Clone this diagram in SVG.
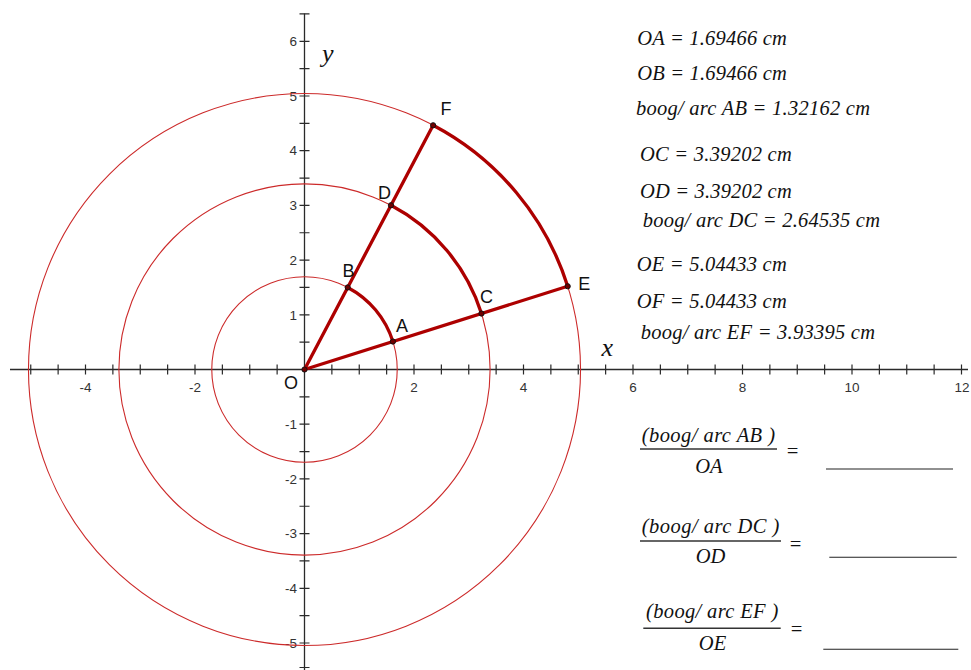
<svg xmlns="http://www.w3.org/2000/svg" width="971" height="670" viewBox="0 0 971 670">
<style>
.axis{stroke:#2a2a2a;stroke-width:1.3;fill:none}
.tick{stroke:#2a2a2a;stroke-width:1.2;fill:none}
.tl{font-family:"Liberation Sans",Arial,sans-serif;font-size:13.5px;fill:#333}
.circ{stroke:#cc2a2a;stroke-width:1.1;fill:none}
.seg{stroke:#ad0000;stroke-width:3.3;fill:none;stroke-linecap:round}
.pt{fill:#700000;stroke:#111;stroke-width:1}
.pl{font-family:"Liberation Sans",Arial,sans-serif;font-size:18px;fill:#111}
.m{font-family:"Liberation Serif","Times New Roman",serif;font-style:italic;font-size:20.5px;fill:#111}
.ax{font-family:"Liberation Serif","Times New Roman",serif;font-style:italic;font-size:26px;fill:#111}
.bar{stroke:#333;stroke-width:1.4}
.ans{stroke:#222;stroke-width:1.1}
</style>

<g id="axes">
  <line class="axis" x1="10" y1="369.5" x2="968" y2="369.5"/>
  <line class="axis" x1="304.5" y1="13.5" x2="304.5" y2="670"/>
  <path class="tick" d="M30.75 364.5V374.5M58.125 364.5V374.5M85.5 364.5V374.5M112.875 364.5V374.5M140.25 364.5V374.5M167.625 364.5V374.5M195 364.5V374.5M222.375 364.5V374.5M249.75 364.5V374.5M277.125 364.5V374.5M331.875 364.5V374.5M359.25 364.5V374.5M386.625 364.5V374.5M414 364.5V374.5M441.375 364.5V374.5M468.75 364.5V374.5M496.125 364.5V374.5M523.5 364.5V374.5M550.875 364.5V374.5M578.25 364.5V374.5M605.625 364.5V374.5M633 364.5V374.5M660.375 364.5V374.5M687.75 364.5V374.5M715.125 364.5V374.5M742.5 364.5V374.5M769.875 364.5V374.5M797.25 364.5V374.5M824.625 364.5V374.5M852 364.5V374.5M879.375 364.5V374.5M906.75 364.5V374.5M934.125 364.5V374.5M961.5 364.5V374.5"/>
  <path class="tick" d="M299.5 13.95H309.5M299.5 41.3H309.5M299.5 68.65H309.5M299.5 96H309.5M299.5 123.35H309.5M299.5 150.7H309.5M299.5 178.05H309.5M299.5 205.4H309.5M299.5 232.75H309.5M299.5 260.1H309.5M299.5 287.45H309.5M299.5 314.8H309.5M299.5 342.15H309.5M299.5 396.85H309.5M299.5 424.2H309.5M299.5 451.55H309.5M299.5 478.9H309.5M299.5 506.25H309.5M299.5 533.6H309.5M299.5 560.95H309.5M299.5 588.3H309.5M299.5 615.65H309.5M299.5 643H309.5M299.5 667.5H309.5"/>
  <g class="tl" text-anchor="middle">
    <text x="85.5" y="391.5">-4</text>
    <text x="195" y="391.5">-2</text>
    <text x="414" y="391.5">2</text>
    <text x="523.5" y="391.5">4</text>
    <text x="633" y="391.5">6</text>
    <text x="742.5" y="391.5">8</text>
    <text x="852" y="391.5">10</text>
    <text x="962" y="391.5">12</text>
  </g>
  <g class="tl" text-anchor="end">
    <text x="297" y="46">6</text>
    <text x="297" y="100.7">5</text>
    <text x="297" y="155.4">4</text>
    <text x="297" y="210.1">3</text>
    <text x="297" y="264.8">2</text>
    <text x="297" y="319.5">1</text>
    <text x="297" y="428.9">-1</text>
    <text x="297" y="483.6">-2</text>
    <text x="297" y="538.3">-3</text>
    <text x="297" y="593">-4</text>
    <text x="297" y="647.7">-5</text>
  </g>
  <text class="ax" x="601.5" y="356">x</text>
  <text class="ax" x="322" y="61.5">y</text>
</g>

<g id="circles">
  <circle class="circ" cx="304.5" cy="369.5" r="92.73"/>
  <circle class="circ" cx="304.5" cy="369.5" r="185.61"/>
  <circle class="circ" cx="304.5" cy="369.5" r="276.03"/>
</g>

<g id="connectors">
  <line class="seg" x1="304.5" y1="369.5" x2="567.68" y2="286.27"/>
  <line class="seg" x1="304.5" y1="369.5" x2="433.12" y2="125.27"/>
  <path class="seg" d="M392.91 341.54A92.73 92.73 0 0 0 347.71 287.45"/>
  <path class="seg" d="M481.47 313.53A185.61 185.61 0 0 0 390.99 205.27"/>
  <path class="seg" d="M567.68 286.27A276.03 276.03 0 0 0 433.12 125.27"/>
</g>

<g id="node-O"><circle class="pt" cx="304.5" cy="369.5" r="2.6"/><text class="pl" x="284" y="388.5">O</text></g>
<g id="node-A"><circle class="pt" cx="392.91" cy="341.54" r="2.6"/><text class="pl" x="396" y="331.5">A</text></g>
<g id="node-B"><circle class="pt" cx="347.71" cy="287.45" r="2.6"/><text class="pl" x="342.5" y="276.5">B</text></g>
<g id="node-C"><circle class="pt" cx="481.47" cy="313.53" r="2.6"/><text class="pl" x="480" y="303">C</text></g>
<g id="node-D"><circle class="pt" cx="390.99" cy="205.27" r="2.6"/><text class="pl" x="378" y="198.5">D</text></g>
<g id="node-E"><circle class="pt" cx="567.68" cy="286.27" r="2.6"/><text class="pl" x="578.3" y="289.5">E</text></g>
<g id="node-F"><circle class="pt" cx="433.12" cy="125.27" r="2.6"/><text class="pl" x="440.5" y="114.5">F</text></g>

<g id="measurements">
  <text class="m" x="637.3" y="44.5" textLength="149.5" lengthAdjust="spacing">OA = 1.69466 cm</text>
  <text class="m" x="637.3" y="80" textLength="149.5" lengthAdjust="spacing">OB = 1.69466 cm</text>
  <text class="m" x="636" y="115" textLength="234" lengthAdjust="spacing">boog/ arc AB = 1.32162 cm</text>
  <text class="m" x="640" y="161" textLength="151.7" lengthAdjust="spacing">OC = 3.39202 cm</text>
  <text class="m" x="640" y="197.5" textLength="151.7" lengthAdjust="spacing">OD = 3.39202 cm</text>
  <text class="m" x="642.7" y="226.5" textLength="237.3" lengthAdjust="spacing">boog/ arc DC = 2.64535 cm</text>
  <text class="m" x="636.7" y="271" textLength="150" lengthAdjust="spacing">OE = 5.04433 cm</text>
  <text class="m" x="636.7" y="307.5" textLength="150" lengthAdjust="spacing">OF = 5.04433 cm</text>
  <text class="m" x="640.7" y="339" textLength="234.3" lengthAdjust="spacing">boog/ arc EF = 3.93395 cm</text>
</g>

<g id="fraction-AB">
  <text class="m" x="641.7" y="441.5" textLength="133.3" lengthAdjust="spacing">(boog/ arc AB )</text>
  <line class="bar" x1="640" y1="449" x2="777" y2="449"/>
  <text class="m" x="708.8" y="472.5" text-anchor="middle">OA</text>
  <text class="m" x="792.5" y="458" text-anchor="middle">=</text>
  <line class="ans" x1="826" y1="469" x2="953" y2="469"/>
</g>
<g id="fraction-DC">
  <text class="m" x="641.7" y="533.3" textLength="137.7" lengthAdjust="spacing">(boog/ arc DC )</text>
  <line class="bar" x1="640" y1="541" x2="781" y2="541"/>
  <text class="m" x="710.5" y="563.3" text-anchor="middle">OD</text>
  <text class="m" x="795.5" y="551" text-anchor="middle">=</text>
  <line class="ans" x1="829.3" y1="557.3" x2="956.7" y2="557.3"/>
</g>
<g id="fraction-EF">
  <text class="m" x="646" y="618.3" textLength="132.3" lengthAdjust="spacing">(boog/ arc EF )</text>
  <line class="bar" x1="643.3" y1="628.3" x2="780.7" y2="628.3"/>
  <text class="m" x="712.5" y="650" text-anchor="middle">OE</text>
  <text class="m" x="796.5" y="636" text-anchor="middle">=</text>
  <line class="ans" x1="823.3" y1="649.3" x2="958.3" y2="649.3"/>
</g>
</svg>
